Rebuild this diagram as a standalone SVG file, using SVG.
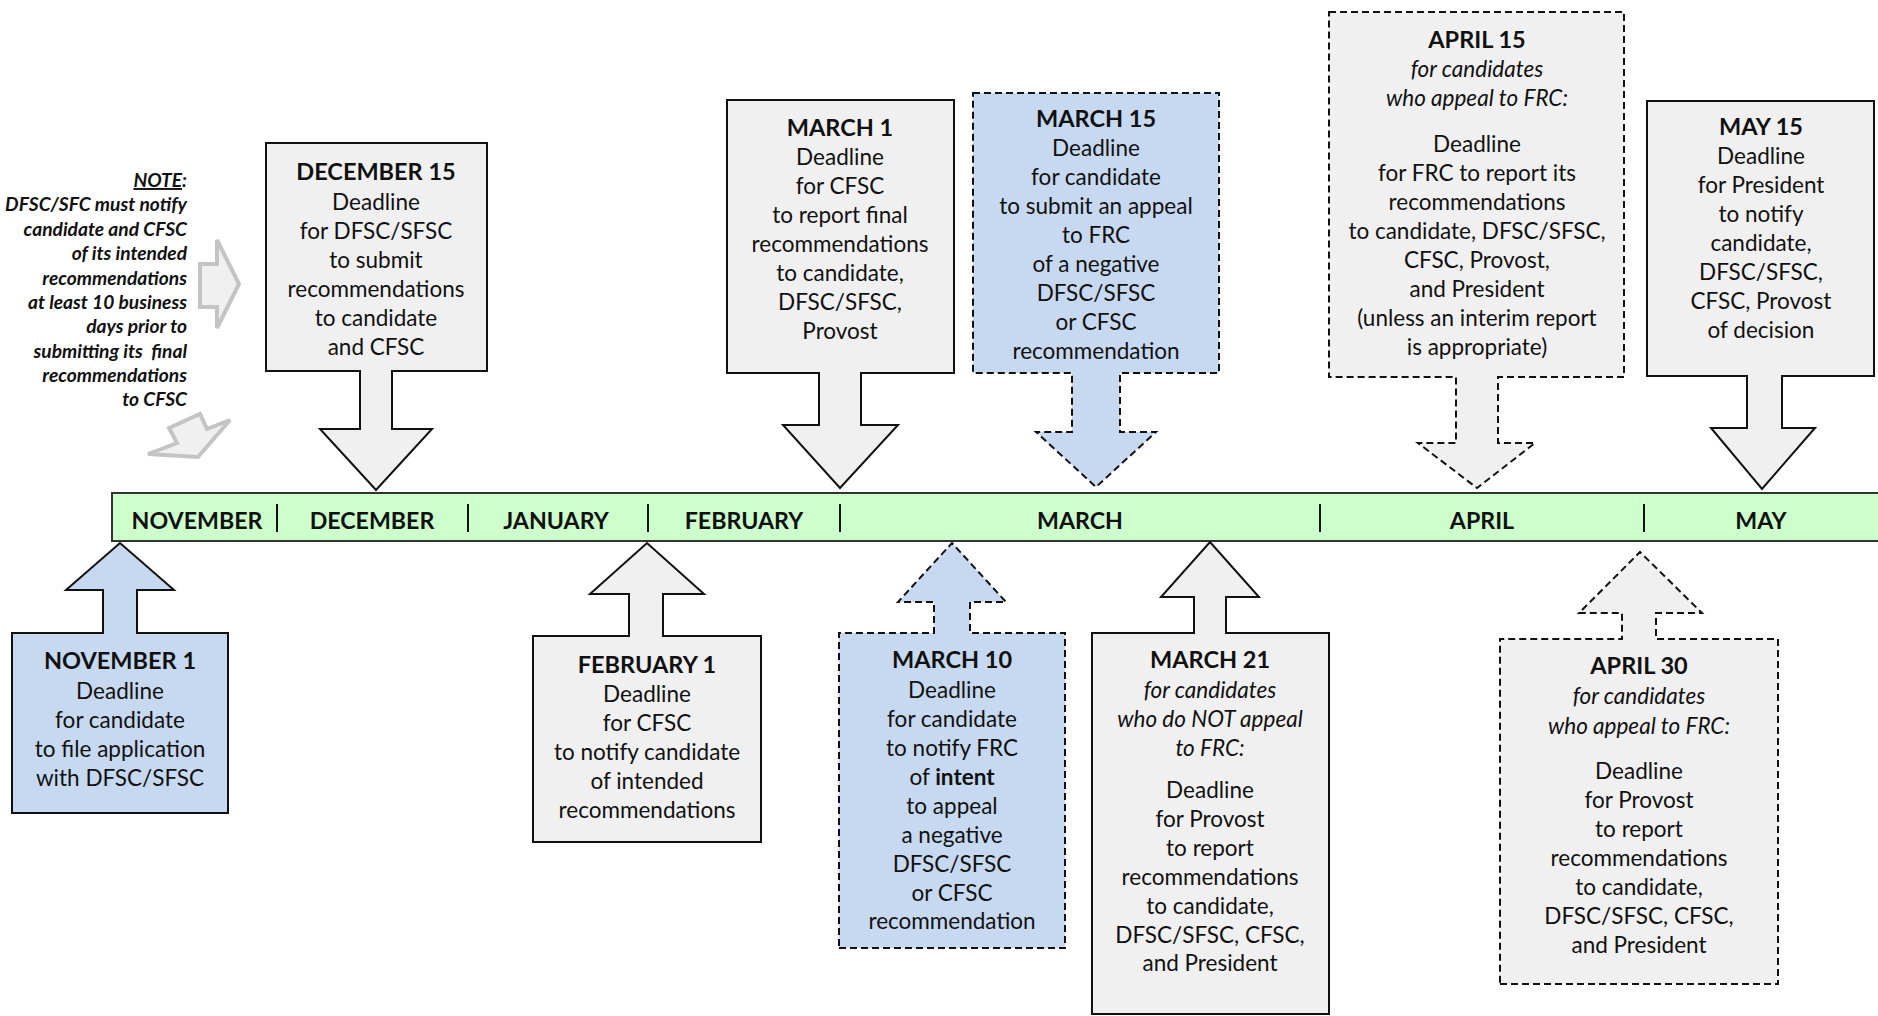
<svg xmlns="http://www.w3.org/2000/svg" width="1878" height="1016" viewBox="0 0 1878 1016">
<style>
.shape{stroke:#111;stroke-width:2;stroke-linejoin:miter}
.gray{fill:#f0f0f0}
.blue{fill:#c6d9f0}
.dash{stroke-dasharray:7 4}
text{font-family:Lato,"Liberation Sans",sans-serif;fill:#111}
.t{font-size:22.5px;text-anchor:middle}
.h{font-size:23.5px;font-weight:bold;text-anchor:middle}
.m{font-size:23.2px;font-weight:bold;text-anchor:middle}
.i{font-style:italic}
.note{font-size:19.2px;font-weight:bold;font-style:italic;text-anchor:end}
.hint{fill:#f0f0f0;stroke:#c4c4c4;stroke-width:4;stroke-linejoin:miter}
.div{stroke:#111;stroke-width:2}
</style>
<defs>
<clipPath id="noteclip"><rect x="0" y="160" width="200" height="247"/></clipPath>
</defs>
<rect width="1878" height="1016" fill="#ffffff"/>

<g id="timeline">
<rect x="112" y="493" width="1775" height="48" fill="#ccffcc" stroke="#333" stroke-width="2"/>
<line class="div" x1="277" y1="504" x2="277" y2="532"/>
<line class="div" x1="468" y1="504" x2="468" y2="532"/>
<line class="div" x1="648" y1="504" x2="648" y2="532"/>
<line class="div" x1="840" y1="504" x2="840" y2="532"/>
<line class="div" x1="1320" y1="504" x2="1320" y2="532"/>
<line class="div" x1="1644" y1="504" x2="1644" y2="532"/>
<text class="m" x="197" y="529">NOVEMBER</text>
<text class="m" x="372" y="529">DECEMBER</text>
<text class="m" x="556" y="529">JANUARY</text>
<text class="m" x="744" y="529">FEBRUARY</text>
<text class="m" x="1080" y="529">MARCH</text>
<text class="m" x="1482" y="529">APRIL</text>
<text class="m" x="1761" y="529">MAY</text>
</g>

<g id="note">
<g clip-path="url(#noteclip)">
<text class="note" x="187" y="187"><tspan text-decoration="underline">NOTE</tspan>:</text>
<text class="note" x="187" y="211">DFSC/SFC must notify</text>
<text class="note" x="187" y="236">candidate and CFSC</text>
<text class="note" x="187" y="260">of its intended</text>
<text class="note" x="187" y="285">recommendations</text>
<text class="note" x="187" y="309">at least 10 business</text>
<text class="note" x="187" y="333">days prior to</text>
<text class="note" x="187" y="358" xml:space="preserve">submitting its  final</text>
<text class="note" x="187" y="382">recommendations</text>
<text class="note" x="187" y="406">to CFSC</text>
</g>
<polygon class="hint" points="200,264 217,264 217,240 239,284 217,328 217,307 200,307"/>
<polygon class="hint" points="169,428 200,414 207,429 230,420 198,457 148,454 177,443"/>
</g>

<g id="nov1">
<path class="shape blue" d="M12,813 H228 V633 H137 V590 H174 L120,543 L66,590 H103 V633 H12 Z"/>
<text class="h" x="120" y="669">NOVEMBER 1</text>
<text class="t" x="120" y="699">Deadline</text>
<text class="t" x="120" y="728">for candidate</text>
<text class="t" x="120" y="757">to file application</text>
<text class="t" x="120" y="786">with DFSC/SFSC</text>
</g>

<g id="dec15">
<path class="shape gray" d="M266,143 H487 V371 H392 V429 H432 L376,490 L320,429 H360 V371 H266 Z"/>
<text class="h" x="376" y="180">DECEMBER 15</text>
<text class="t" x="376" y="210">Deadline</text>
<text class="t" x="376" y="239">for DFSC/SFSC</text>
<text class="t" x="376" y="268">to submit</text>
<text class="t" x="376" y="297">recommendations</text>
<text class="t" x="376" y="326">to candidate</text>
<text class="t" x="376" y="355">and CFSC</text>
</g>

<g id="feb1">
<path class="shape gray" d="M533,842 H761 V636 H663 V594 H704 L647,543 L590,594 H629 V636 H533 Z"/>
<text class="h" x="647" y="673">FEBRUARY 1</text>
<text class="t" x="647" y="702">Deadline</text>
<text class="t" x="647" y="731">for CFSC</text>
<text class="t" x="647" y="760">to notify candidate</text>
<text class="t" x="647" y="789">of intended</text>
<text class="t" x="647" y="818">recommendations</text>
</g>

<g id="mar1">
<path class="shape gray" d="M727,100 H954 V373 H861 V425 H898 L840,488 L783,425 H819 V373 H727 Z"/>
<text class="h" x="840" y="136">MARCH 1</text>
<text class="t" x="840" y="165">Deadline</text>
<text class="t" x="840" y="194">for CFSC</text>
<text class="t" x="840" y="223">to report final</text>
<text class="t" x="840" y="252">recommendations</text>
<text class="t" x="840" y="281">to candidate,</text>
<text class="t" x="840" y="310">DFSC/SFSC,</text>
<text class="t" x="840" y="339">Provost</text>
</g>

<g id="mar15">
<path class="shape blue dash" d="M973,93 H1219 V373 H1120 V432 H1156 L1096,487 L1036,432 H1072 V373 H973 Z"/>
<text class="h" x="1096" y="127">MARCH 15</text>
<text class="t" x="1096" y="156">Deadline</text>
<text class="t" x="1096" y="185">for candidate</text>
<text class="t" x="1096" y="214">to submit an appeal</text>
<text class="t" x="1096" y="243">to FRC</text>
<text class="t" x="1096" y="272">of a negative</text>
<text class="t" x="1096" y="301">DFSC/SFSC</text>
<text class="t" x="1096" y="330">or CFSC</text>
<text class="t" x="1096" y="359">recommendation</text>
</g>

<g id="mar10">
<path class="shape blue dash" d="M839,948 H1065 V633 H970 V602 H1006 L952,543 L898,602 H934 V633 H839 Z"/>
<text class="h" x="952" y="668">MARCH 10</text>
<text class="t" x="952" y="698">Deadline</text>
<text class="t" x="952" y="727">for candidate</text>
<text class="t" x="952" y="756">to notify FRC</text>
<text class="t" x="952" y="785">of <tspan font-weight="bold">intent</tspan></text>
<text class="t" x="952" y="814">to appeal</text>
<text class="t" x="952" y="843">a negative</text>
<text class="t" x="952" y="872">DFSC/SFSC</text>
<text class="t" x="952" y="901">or CFSC</text>
<text class="t" x="952" y="929">recommendation</text>
</g>

<g id="mar21">
<path class="shape gray" d="M1092,1014 H1329 V633 H1226 V597 H1259 L1210,542 L1161,597 H1194 V633 H1092 Z"/>
<text class="h" x="1210" y="668">MARCH 21</text>
<text class="t i" x="1210" y="698">for candidates</text>
<text class="t i" x="1210" y="727">who do NOT appeal</text>
<text class="t i" x="1210" y="756">to FRC:</text>
<text class="t" x="1210" y="798">Deadline</text>
<text class="t" x="1210" y="827">for Provost</text>
<text class="t" x="1210" y="856">to report</text>
<text class="t" x="1210" y="885">recommendations</text>
<text class="t" x="1210" y="914">to candidate,</text>
<text class="t" x="1210" y="943">DFSC/SFSC, CFSC,</text>
<text class="t" x="1210" y="971">and President</text>
</g>

<g id="apr15">
<path class="shape gray dash" d="M1329,12 H1624 V377 H1498 V443 H1535 L1477,488 L1418,443 H1456 V377 H1329 Z"/>
<text class="h" x="1477" y="48">APRIL 15</text>
<text class="t i" x="1477" y="77">for candidates</text>
<text class="t i" x="1477" y="106">who appeal to FRC:</text>
<text class="t" x="1477" y="152">Deadline</text>
<text class="t" x="1477" y="181">for FRC to report its</text>
<text class="t" x="1477" y="210">recommendations</text>
<text class="t" x="1477" y="239">to candidate, DFSC/SFSC,</text>
<text class="t" x="1477" y="268">CFSC, Provost,</text>
<text class="t" x="1477" y="297">and President</text>
<text class="t" x="1477" y="326">(unless an interim report</text>
<text class="t" x="1477" y="355">is appropriate)</text>
</g>

<g id="apr30">
<path class="shape gray dash" d="M1500,984 H1778 V639 H1656 V613 H1702 L1640,552 L1579,613 H1622 V639 H1500 Z"/>
<text class="h" x="1639" y="674">APRIL 30</text>
<text class="t i" x="1639" y="704">for candidates</text>
<text class="t i" x="1639" y="734">who appeal to FRC:</text>
<text class="t" x="1639" y="779">Deadline</text>
<text class="t" x="1639" y="808">for Provost</text>
<text class="t" x="1639" y="837">to report</text>
<text class="t" x="1639" y="866">recommendations</text>
<text class="t" x="1639" y="895">to candidate,</text>
<text class="t" x="1639" y="924">DFSC/SFSC, CFSC,</text>
<text class="t" x="1639" y="953">and President</text>
</g>

<g id="may15">
<path class="shape gray" d="M1647,101 H1874 V376 H1782 V428 H1815 L1762,489 L1711,428 H1747 V376 H1647 Z"/>
<text class="h" x="1761" y="135">MAY 15</text>
<text class="t" x="1761" y="164">Deadline</text>
<text class="t" x="1761" y="193">for President</text>
<text class="t" x="1761" y="222">to notify</text>
<text class="t" x="1761" y="251">candidate,</text>
<text class="t" x="1761" y="280">DFSC/SFSC,</text>
<text class="t" x="1761" y="309">CFSC, Provost</text>
<text class="t" x="1761" y="338">of decision</text>
</g>
</svg>
